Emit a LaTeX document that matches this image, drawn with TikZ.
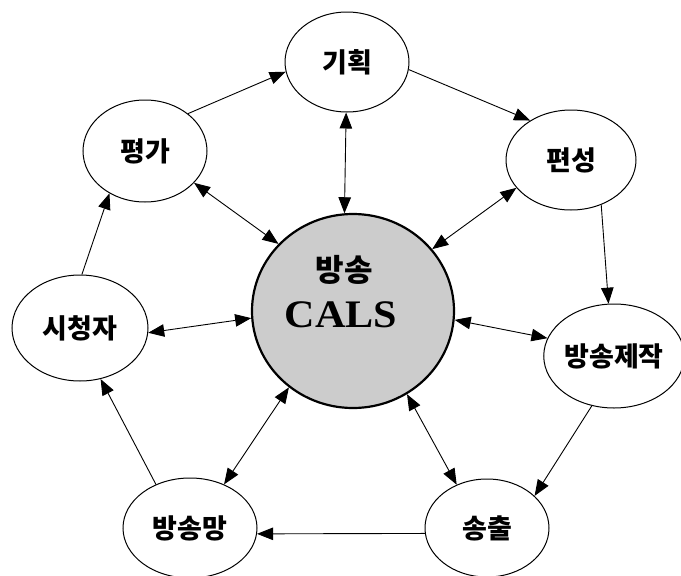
\documentclass[tikz,border=0pt]{standalone}
\usepackage{fontspec}
\setmainfont{Liberation Serif}
\newfontfamily\kr{Noto Sans CJK KR}
\newfontfamily\wideserif{Liberation Serif}[FakeStretch=1.08]
\usetikzlibrary{shapes.geometric,arrows.meta}

\tikzset{
  stage/.style={draw, line width=1pt, shape=ellipse, inner sep=0pt,
    font=\kr\bfseries\fontsize{27}{30}\selectfont},
  hub/.style={draw, line width=2.2pt, shape=ellipse, inner sep=0pt,
    fill=black!20},
  hubtext/.style={inner sep=0pt},
  tip/.tip={Triangle[length=16pt,width=12.5pt]},
  flow/.style={line width=0.9pt, -tip},
  link/.style={line width=0.9pt, tip-tip}
}

\begin{document}
\begin{tikzpicture}[x=1pt,y=-1pt]
  \useasboundingbox (0,0) rectangle (681,576);

  % central hub
  \node[hub, minimum width=202pt, minimum height=194pt] (cals) at (353,311) {};
  \node[hubtext, font=\kr\bfseries\fontsize{31}{34}\selectfont] (calsko) at (344,270) {방송};
  \node[hubtext, font=\wideserif\bfseries\fontsize{39}{41}\selectfont] (calsen) at (341,315) {CALS};

  % production cycle
  \node[stage, minimum width=124pt, minimum height=100pt] (gh) at (347,62)  {기획};
  \node[stage, minimum width=130pt, minimum height=100pt] (ps) at (571,160) {편성};
  \node[stage, minimum width=132pt, minimum height=104pt] (jj) at (614,356) {방송제작};
  \node[stage, minimum width=124pt, minimum height=98pt]  (sc) at (487,528) {송출};
  \node[stage, minimum width=134pt, minimum height=100pt] (bm) at (190,528) {방송망};
  \node[stage, minimum width=136pt, minimum height=106pt] (sj) at (80,328)  {시청자};
  \node[stage, minimum width=124pt, minimum height=102pt] (pg) at (145,151) {평가};

  % cycle arrows
  \draw[flow] (pg.41)   -- (gh.189);
  \draw[flow] (gh.-7)   -- (ps.136);
  \draw[flow] (ps.-56)  -- (jj.96);
  \draw[flow] (jj.246)  -- (sc.34);
  \draw[flow] (sc.185.6) -- (bm.-5.2);
  \draw[flow] (bm.128)  -- (sj.-68);
  \draw[flow] (sj.88)   -- (pg.230);

  % links with the hub
  \draw[link] (pg.-33)  -- (cals.138);
  \draw[link] (gh.269)  -- (cals.95);
  \draw[link] (ps.207)  -- (cals.38);
  \draw[link] (jj.165)  -- (cals.-5);
  \draw[link] (sc.125)  -- (cals.-57);
  \draw[link] (bm.52)   -- (cals.230);
  \draw[link] (sj.-4)   -- (cals.184);
\end{tikzpicture}
\end{document}
